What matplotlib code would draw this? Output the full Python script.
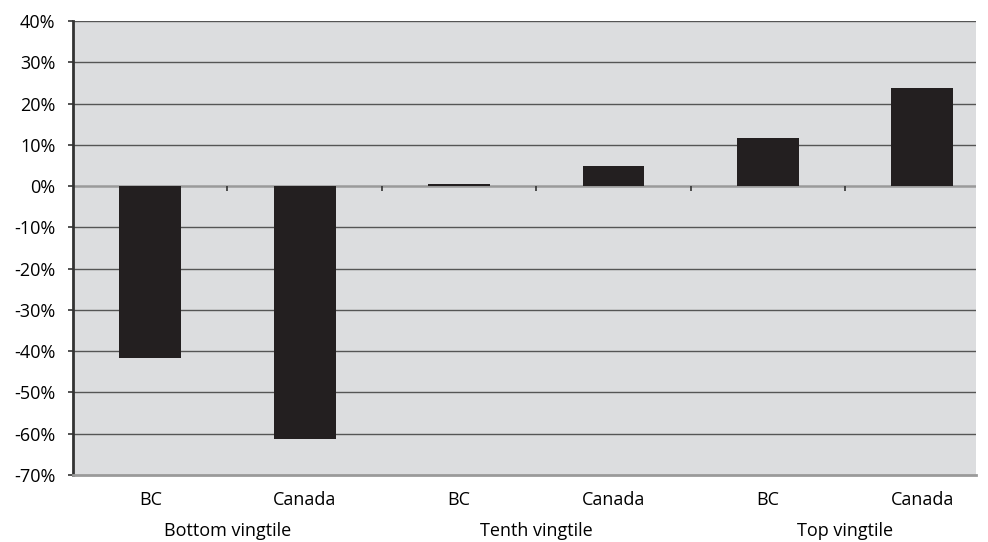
import numpy as np
import matplotlib.pyplot as plt
from matplotlib.transforms import blended_transform_factory

plt.rcParams['font.family'] = ['Open Sans', 'DejaVu Sans']

groups = ["Bottom vingtile", "Tenth vingtile", "Top vingtile"]
regions = ["BC", "Canada"]
change_pct = [-41.8, -61.3, 0.5, 4.8, 11.6, 23.7]
y_ticks = list(range(-70, 41, 10))

bar_color = "#231f20"
panel_bg = "#dcdddf"

fig = plt.figure(figsize=(9.88, 5.42), dpi=100)
ax = fig.add_axes([0.074, 0.124, 0.914, 0.837])
ax.set_facecolor(panel_bg)

x = np.arange(len(change_pct))
ax.bar(x, change_pct, width=0.40, color=bar_color, zorder=3)

# last category runs past the right edge of the panel
ax.set_xlim(-0.5, 5.35)
ax.set_ylim(y_ticks[0], y_ticks[-1])

# horizontal grid, with a lighter zero line
for v in y_ticks[1:]:
    if v == 0:
        ax.axhline(0, color="#9a9a9a", lw=1.8, zorder=2)
    else:
        ax.axhline(v, color="#555555", lw=1.0, zorder=1)

# small ticks on the zero line between categories
bounds = x[:-1] + 0.5
ax.vlines(bounds, -1.2, 0, color="#333333", lw=1.2, zorder=2)

ax.set_yticks(y_ticks)
ax.set_yticklabels([f"{v}%" for v in y_ticks], fontsize=13)
ax.tick_params(axis="y", direction="out", length=3.6, width=1.2, color="#333333", pad=9)

ax.set_xticks(x)
ax.set_xticklabels(regions * len(groups), fontsize=13)
ax.tick_params(axis="x", length=0, pad=12)

trans = blended_transform_factory(ax.transData, ax.transAxes)
for i, g in enumerate(groups):
    ax.text(2 * i + 0.5, -0.123, g, transform=trans, ha="center", va="center", fontsize=13)

for side in ("top", "right"):
    ax.spines[side].set_visible(False)
ax.spines["left"].set_color("#333333")
ax.spines["left"].set_linewidth(2)
ax.spines["bottom"].set_color("#9a9a9a")
ax.spines["bottom"].set_linewidth(2)

fig.savefig("out.png", dpi=100)
